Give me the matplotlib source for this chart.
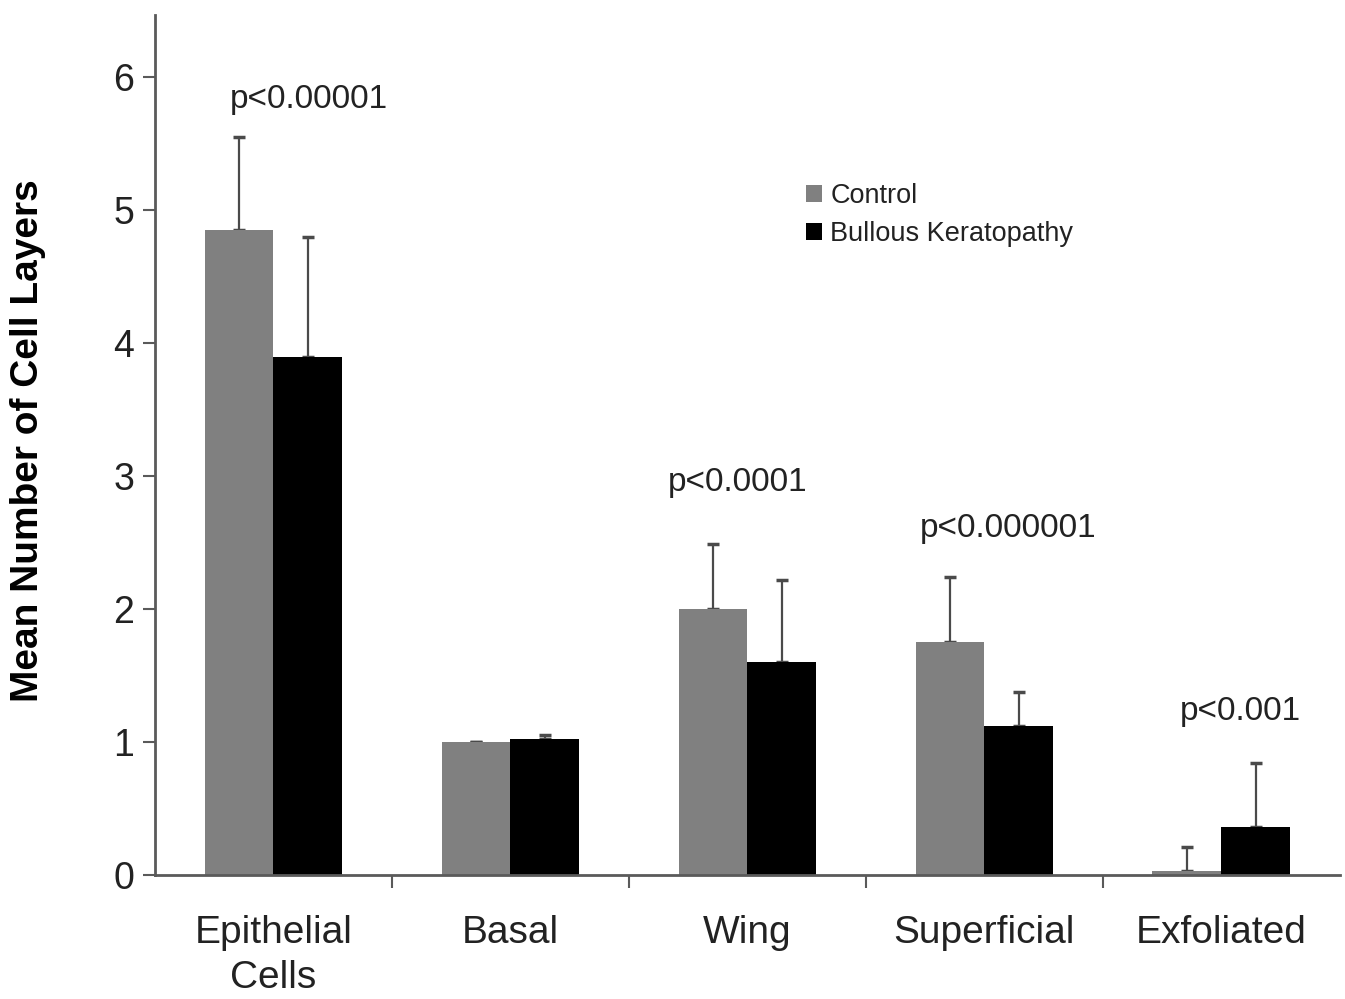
import matplotlib
matplotlib.use("Agg")
import matplotlib.pyplot as plt
import numpy as np
from matplotlib.patches import Patch

plt.rcParams["font.family"] = ["Liberation Sans", "DejaVu Sans"]

# data
categories = ["Epithelial\nCells", "Basal", "Wing", "Superficial", "Exfoliated"]
control_mean = [4.85, 1.00, 2.00, 1.75, 0.03]
control_err = [0.70, 0.00, 0.49, 0.49, 0.18]
bk_mean = [3.90, 1.02, 1.60, 1.12, 0.36]
bk_err = [0.90, 0.03, 0.62, 0.26, 0.48]
p_labels = ["p<0.00001", None, "p<0.0001", "p<0.000001", "p<0.001"]
p_x = [0.15, None, 1.96, 3.10, 4.08]
p_y = [5.83, None, 2.95, 2.61, 1.23]

GRAY = "#808080"
AXC = "#5a5a5a"
ERRC = "#4a4a4a"

fig = plt.figure(figsize=(13.45, 9.99), dpi=100)
ax = fig.add_axes([0.1152, 0.1241, 0.8808, 0.861])

x = np.arange(len(categories))
w = 0.29
ax.bar(x - w / 2, control_mean, w, color=GRAY, edgecolor="none", zorder=2)
ax.bar(x + w / 2, bk_mean, w, color="black", edgecolor="none", zorder=2)
ax.errorbar(x - w / 2, control_mean, yerr=[np.zeros(len(x)), control_err],
            fmt="none", ecolor=ERRC, elinewidth=1.6, capsize=4.5,
            capthick=2.5, zorder=1)
ax.errorbar(x + w / 2, bk_mean, yerr=[np.zeros(len(x)), bk_err],
            fmt="none", ecolor=ERRC, elinewidth=1.6, capsize=4.5,
            capthick=2.5, zorder=1)

for lab, px, py in zip(p_labels, p_x, p_y):
    if lab is None:
        continue
    ax.text(px, py, lab, ha="center", va="center", fontsize=24, color="#222222")

ax.set_xlim(-0.5, 4.5)
ax.set_ylim(0, 6.47)
ax.set_yticks(range(7))
ax.tick_params(axis="y", labelsize=27, length=9, width=1.5, color=AXC,
               pad=6, labelcolor="#222222")

# boundary ticks (major) and category labels (minor)
ax.set_xticks(np.arange(0.5, 4.0, 1.0))
ax.set_xticklabels([])
ax.tick_params(axis="x", which="major", length=9, width=1.5, color=AXC)
ax.set_xticks(x, minor=True)
ax.set_xticklabels(categories, minor=True, fontsize=28, color="#222222",
                   linespacing=1.3)
ax.tick_params(axis="x", which="minor", length=0, pad=29)

for s in ("top", "right"):
    ax.spines[s].set_visible(False)
for s in ("left", "bottom"):
    ax.spines[s].set_color(AXC)
    ax.spines[s].set_linewidth(2)

ax.set_ylabel("Mean Number of Cell Layers", fontsize=28, fontweight="bold")
ax.yaxis.set_label_coords(-0.092, 0.505)

handles = [Patch(facecolor=GRAY, edgecolor="none"),
           Patch(facecolor="black", edgecolor="none")]
ax.legend(handles, ["Control", "Bullous Keratopathy"], loc="upper left",
          bbox_to_anchor=(0.538, 0.82), frameon=False, fontsize=19.5,
          handlelength=0.6, handleheight=0.6, handletextpad=0.3,
          labelspacing=0.45, borderpad=0, labelcolor="#222222")

fig.savefig("out.png", dpi=100)
